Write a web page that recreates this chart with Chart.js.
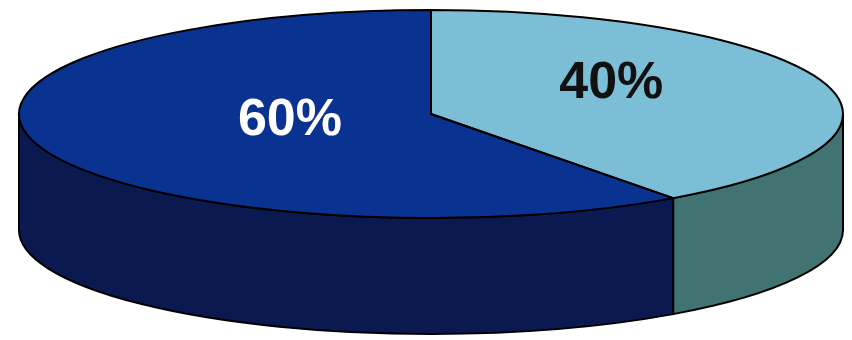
<!DOCTYPE html>
<html>
<head>
<meta charset="utf-8">
<script src="https://cdn.jsdelivr.net/npm/chart.js@4.4.1/dist/chart.umd.min.js"></script>
<style>
  html, body { margin: 0; padding: 0; background: #ffffff; }
  canvas { display: block; }
</style>
</head>
<body>
<canvas id="pie3d" width="852" height="340"></canvas>
<script>
// slices, clockwise from 12 o'clock
var categories = ['Group B', 'Group A'];
var shares = [40, 60];
var shareLabels = ['40%', '60%'];

var topColors = ['#7dbed7', '#0a3291'];
var sideColors = ['#417373', '#0a1950'];
var textColors = ['#111111', '#ffffff'];

// ellipse the flat pie gets projected onto, plus wall height
var disc = { cx: 431, cy: 114, rx: 412, ry: 104, depth: 116 };
// where each label sits: fraction of radius along mid angle, then nudge up
var labelSpot = [{ f: 0.46, dy: -16 }, { f: 0.36, dy: -5 }];

var tilt = {
  id: 'tilt',
  beforeDatasetsDraw: function (chart) {
    var ctx = chart.ctx;
    var arcs = chart.getDatasetMeta(0).data;

    // front walls: only the part of each slice facing the viewer (0..PI)
    arcs.forEach(function (arc, i) {
      var a0 = Math.max(arc.startAngle, 0);
      var a1 = Math.min(arc.endAngle, Math.PI);
      if (a1 <= a0) return;
      ctx.save();
      ctx.beginPath();
      ctx.ellipse(disc.cx, disc.cy, disc.rx, disc.ry, 0, a0, a1);
      ctx.ellipse(disc.cx, disc.cy + disc.depth, disc.rx, disc.ry, 0, a1, a0, true);
      ctx.closePath();
      ctx.fillStyle = sideColors[i];
      ctx.fill();
      ctx.lineWidth = 2;
      ctx.lineJoin = 'round';
      ctx.strokeStyle = '#000000';
      ctx.stroke();
      ctx.restore();
    });

    // squash the round pie into the top face
    var a = arcs[0];
    var r = a.outerRadius;
    ctx.save();
    ctx.translate(disc.cx, disc.cy);
    ctx.scale(disc.rx / r, disc.ry / r);
    ctx.translate(-a.x, -a.y);
  },
  afterDatasetsDraw: function (chart) {
    var ctx = chart.ctx;
    ctx.restore();
    var arcs = chart.getDatasetMeta(0).data;

    arcs.forEach(function (arc) {
      ctx.save();
      ctx.beginPath();
      ctx.moveTo(disc.cx, disc.cy);
      ctx.ellipse(disc.cx, disc.cy, disc.rx, disc.ry, 0, arc.startAngle, arc.endAngle);
      ctx.closePath();
      ctx.lineWidth = 2;
      ctx.lineJoin = 'round';
      ctx.strokeStyle = '#000000';
      ctx.stroke();
      ctx.restore();
    });

    arcs.forEach(function (arc, i) {
      var mid = (arc.startAngle + arc.endAngle) / 2;
      var s = labelSpot[i];
      var x = disc.cx + s.f * disc.rx * Math.cos(mid);
      var y = disc.cy + s.f * disc.ry * Math.sin(mid) + s.dy;
      ctx.save();
      ctx.font = 'bold 52px "Liberation Sans", Arial, sans-serif';
      ctx.fillStyle = textColors[i];
      ctx.textAlign = 'center';
      ctx.textBaseline = 'middle';
      ctx.fillText(shareLabels[i], x, y);
      ctx.restore();
    });
  }
};

new Chart(document.getElementById('pie3d'), {
  type: 'pie',
  data: {
    labels: categories,
    datasets: [{
      data: shares,
      backgroundColor: topColors,
      borderWidth: 0,
      clip: false
    }]
  },
  options: {
    responsive: false,
    animation: false,
    events: [],
    layout: { padding: 0 },
    plugins: {
      legend: { display: false },
      tooltip: { enabled: false }
    }
  },
  plugins: [tilt]
});
</script>
</body>
</html>
